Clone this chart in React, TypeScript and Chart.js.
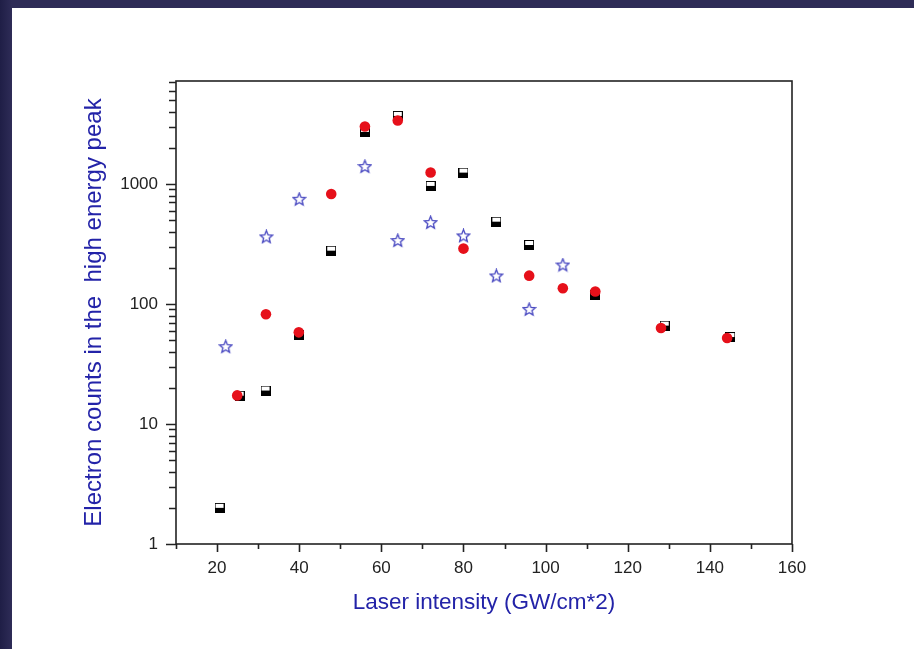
import React, { useEffect, useRef } from 'react';
import { Chart, registerables } from 'chart.js';

Chart.register(...registerables);

// ---- data ----
const squareX = [20.6, 25.5, 31.8, 39.9, 47.8, 56, 64, 72, 80, 88, 96, 112, 129, 145];
const squareY = [2.0, 17.2, 19, 55, 278, 2713, 3685, 962, 1243, 485, 310, 119, 66, 53];

const circleX = [24.9, 31.9, 39.9, 47.8, 56, 64, 72, 80, 96, 104.2, 112.1, 128.1, 144.2];
const circleY = [17.3, 82, 58, 825, 3004, 3370, 1243, 289, 172, 135, 127, 63, 52];

const starX = [22.1, 32, 40, 56, 64, 72, 80, 88, 96, 104.2];
const starY = [44, 362, 745, 1394, 337, 476, 369, 171, 90, 211];

const xTickLabels = [20, 40, 60, 80, 100, 120, 140, 160];
const yTickLabels = [1, 10, 100, 1000];
const yMinorMultipliers = [1, 2, 3, 4, 5, 6, 7, 8, 9];

const xTitle = 'Laser intensity (GW/cm*2)';
const yTitle = 'Electron counts in the  high energy peak';

const FONT = "Arial, 'Liberation Sans', Helvetica, sans-serif";
const BLUE = '#2323a8';

function makeSquare(): HTMLCanvasElement {
  const c = document.createElement('canvas');
  c.width = 10;
  c.height = 10;
  const g = c.getContext('2d')!;
  g.fillStyle = '#000';
  g.fillRect(0, 0, 10, 10);
  g.fillStyle = '#fff';
  g.fillRect(1, 1, 8, 4);
  return c;
}

function makeStar(): HTMLCanvasElement {
  const c = document.createElement('canvas');
  c.width = 15;
  c.height = 15;
  const g = c.getContext('2d')!;
  const cx = 7.5, cy = 7.8, ro = 6.6, ri = 2.9;
  g.beginPath();
  for (let i = 0; i < 10; i++) {
    const r = i % 2 === 0 ? ro : ri;
    const a = -Math.PI / 2 + (i * Math.PI) / 5;
    const px = cx + r * Math.cos(a);
    const py = cy + r * Math.sin(a);
    if (i === 0) g.moveTo(px, py);
    else g.lineTo(px, py);
  }
  g.closePath();
  g.strokeStyle = '#4646c0';
  g.lineWidth = 1.3;
  g.stroke();
  return c;
}

const framePlugin = {
  id: 'frame',
  afterDraw(chart: any) {
    const { ctx, chartArea: a, scales } = chart;
    const xs = scales.x;
    const ys = scales.y;
    ctx.save();
    ctx.strokeStyle = '#222';
    ctx.lineWidth = 1.6;
    ctx.strokeRect(a.left, a.top, a.right - a.left, a.bottom - a.top);
    ctx.beginPath();
    xs.ticks.forEach((t: any) => {
      const px = Math.round(xs.getPixelForValue(t.value)) + 0.5;
      const len = xTickLabels.includes(t.value) ? 8 : 5;
      ctx.moveTo(px, a.bottom);
      ctx.lineTo(px, a.bottom + len);
    });
    ys.ticks.forEach((t: any) => {
      const py = Math.round(ys.getPixelForValue(t.value)) + 0.5;
      const len = yTickLabels.includes(t.value) ? 10 : 7;
      ctx.moveTo(a.left, py);
      ctx.lineTo(a.left - len, py);
    });
    ctx.stroke();
    ctx.restore();
  },
};

export default function App() {
  const ref = useRef<HTMLCanvasElement>(null);

  useEffect(() => {
    if (!ref.current) return;
    const yMax = 7200;
    const yTicks: number[] = [];
    yTickLabels.forEach((d) => {
      yMinorMultipliers.forEach((m) => {
        const v = d * m;
        if (v <= yMax) yTicks.push(v);
      });
    });

    const chart = new Chart(ref.current, {
      type: 'scatter',
      data: {
        datasets: [
          {
            label: 'circles',
            data: circleX.map((x, i) => ({ x, y: circleY[i] })),
            pointStyle: 'circle',
            pointRadius: 5.3,
            backgroundColor: '#e6101a',
            borderColor: '#e6101a',
            borderWidth: 0,
          },
          {
            label: 'stars',
            data: starX.map((x, i) => ({ x, y: starY[i] })),
            pointStyle: makeStar(),
            pointRadius: 6,
          },
          {
            label: 'squares',
            data: squareX.map((x, i) => ({ x, y: squareY[i] })),
            pointStyle: makeSquare(),
            pointRadius: 5,
          },
        ],
      },
      options: {
        animation: false,
        responsive: false,
        devicePixelRatio: 1,
        layout: { padding: { left: 56, top: 73, right: 122, bottom: 33 } },
        plugins: { legend: { display: false }, tooltip: { enabled: false } },
        scales: {
          x: {
            type: 'linear',
            min: 10,
            max: 160,
            afterFit(s: any) {
              s.height = 72;
            },
            grid: { display: false, drawTicks: false },
            border: { display: false },
            ticks: {
              stepSize: 10,
              autoSkip: false,
              maxRotation: 0,
              padding: 14,
              color: '#222',
              font: { size: 17, family: FONT },
              callback: (v: any) => (xTickLabels.includes(Number(v)) ? String(v) : ''),
            },
            title: {
              display: true,
              text: xTitle,
              color: BLUE,
              font: { size: 22.5, family: FONT },
              padding: { top: 0, bottom: 0 },
            },
          },
          y: {
            type: 'logarithmic',
            min: 1,
            max: yMax,
            afterBuildTicks(s: any) {
              s.ticks = yTicks.map((v) => ({ value: v }));
            },
            afterFit(s: any) {
              s.width = 108;
            },
            grid: { display: false, drawTicks: false },
            border: { display: false },
            ticks: {
              autoSkip: false,
              padding: 18,
              color: '#222',
              font: { size: 17, family: FONT },
              callback: (v: any) => (yTickLabels.includes(Number(v)) ? String(v) : ''),
            },
            title: {
              display: true,
              text: yTitle,
              color: BLUE,
              font: { size: 24, family: FONT },
              padding: { top: 12, bottom: 0 },
            },
          },
        },
      },
      plugins: [framePlugin],
    } as any);
    return () => chart.destroy();
  }, []);

  return (
    <div
      style={{
        position: 'fixed',
        left: 0,
        top: 0,
        width: 914,
        height: 649,
        background: 'linear-gradient(to right, #1f1e46 0px, #2e2c57 12px)',
        overflow: 'hidden',
      }}
    >
      <div style={{ position: 'absolute', left: 12, top: 8, width: 902, height: 641, background: '#fff' }}>
        <canvas ref={ref} width={902} height={641} style={{ display: 'block' }} />
      </div>
    </div>
  );
}
